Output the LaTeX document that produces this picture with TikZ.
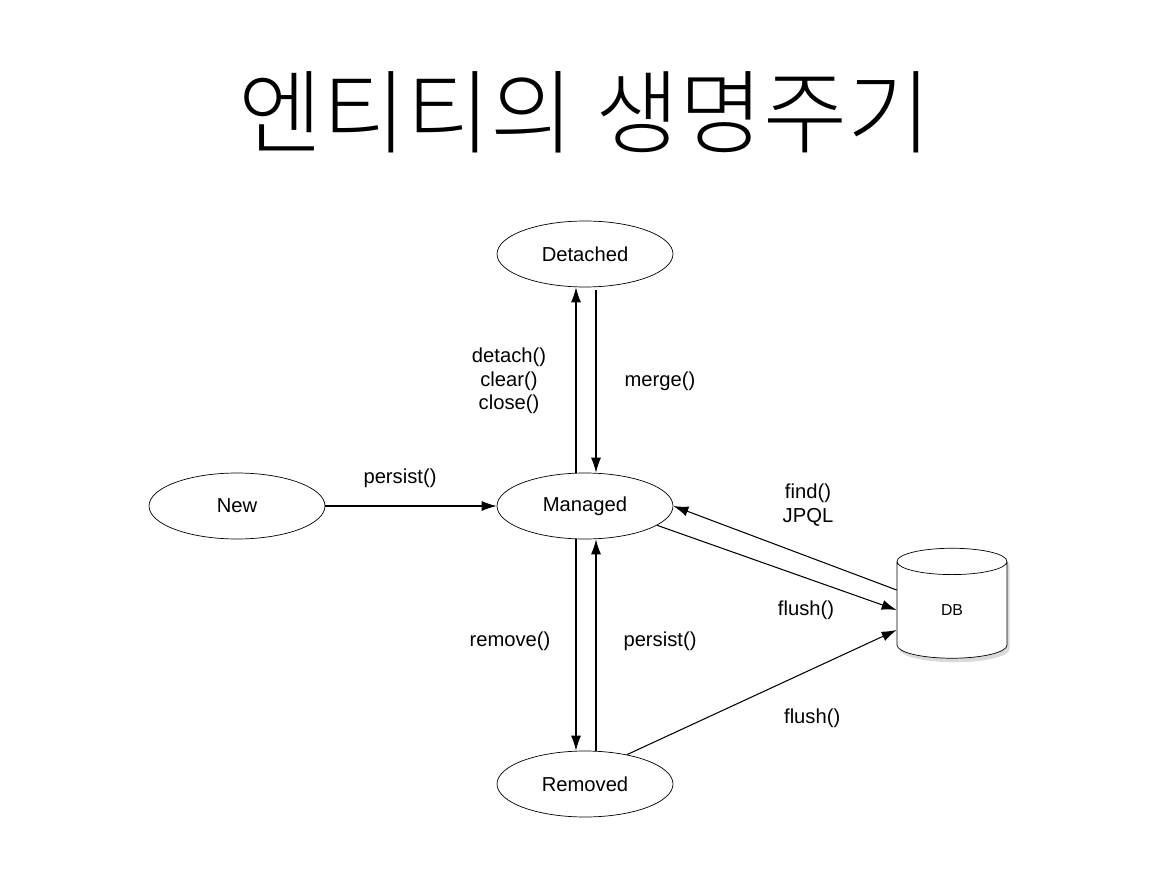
\documentclass[tikz,border=0pt]{standalone}
\usepackage{fontspec}
\setmainfont{Liberation Sans}
\newfontfamily\cjk{Noto Sans CJK KR}[UprightFont=* Light]
\usetikzlibrary{shapes.geometric, arrows.meta, shadows}

\begin{document}
\begin{tikzpicture}
		[
			x=0.02cm, y=-0.02cm,
			state/.style={ellipse, draw, inner sep=0pt, minimum width=3.52cm, minimum height=1.32cm, font=\fontsize{11.5}{13}\selectfont},
			store/.style={cylinder, draw, fill=white, shape border rotate=90, aspect=1.2, minimum width=2.2cm, minimum height=2.2cm, inner sep=0pt, font=\fontsize{9}{11}\selectfont, drop shadow={shadow xshift=0.5mm, shadow yshift=-0.8mm, opacity=0.3}},
			edge/.style={-{Latex[length=3mm, width=2mm]}, semithick},
			lbl/.style={align=center, font=\fontsize{11.5}{13.5}\selectfont},
		]
		\useasboundingbox (0,0) rectangle (1155,891);

		% Title
		\node[font=\cjk\fontsize{52}{58}\selectfont] (title) at (585,112) {엔티티의 생명주기};

		% Nodes
		\foreach \name/\text/\x/\y in
		{
			detached/Detached/585/254,
			new/New/237/506,
			managed/Managed/585/506,
			removed/Removed/585/784
		}
			\node[state] (\name) at (\x,\y) {\text};
		\node[store] (db) at (952,610) {DB};

		% Transitions
		\draw[edge] ([xshift=-0.18cm]managed.north) -- ([xshift=-0.18cm]detached.south);
		\draw[edge] ([xshift=0.22cm,yshift=-0.06cm]detached.south) -- ([xshift=0.22cm]managed.north);
		\draw[edge] (new) -- (managed);
		\draw[edge] ([xshift=-0.18cm]managed.south) -- ([xshift=-0.18cm]removed.north);
		\draw[edge] ([xshift=0.22cm]removed.north) -- ([xshift=0.22cm]managed.south);
		\draw[edge] ([yshift=0.4cm]db.west) -- (managed.east);
		\draw[edge] (managed.-15) -- (db.west);
		\draw[edge] (removed.35) -- ([yshift=-0.4cm]db.west);

		% Labels
		\foreach \x/\y/\text in
		{
			509/381/{detach()\\clear()\\close()},
			660/381/merge(),
			400/478/persist(),
			808/505/{find()\\JPQL},
			806/610/flush(),
			510/641/remove(),
			660/641/persist(),
			815/718/flush()
		}
			\node[lbl] at (\x,\y) {\text};

		\end{tikzpicture}
\end{document}
